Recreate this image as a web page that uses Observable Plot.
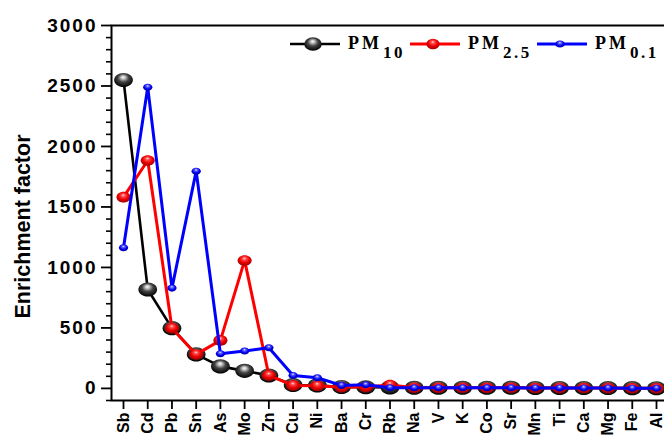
<!DOCTYPE html>
<html>
<head>
<meta charset="utf-8">
<script src="https://cdn.jsdelivr.net/npm/d3@7"></script>
<script src="https://cdn.jsdelivr.net/npm/@observablehq/plot@0.6"></script>
<style>
  body { margin: 0; background: #fff; }
  #chart { position: relative; width: 664px; height: 435px; overflow: hidden; }
  #chart svg { font-family: "Liberation Sans", Arial, sans-serif; font-weight: bold; }
</style>
</head>
<body>
<div id="chart"></div>
<script>
// ---- data ----
const elements = ["Sb","Cd","Pb","Sn","As","Mo","Zn","Cu","Ni","Ba","Cr","Rb","Na","V","K","Co","Sr","Mn","Ti","Ca","Mg","Fe","Al"];
const pm10  = [2550, 818, 498, 281, 182, 145, 107, 28, 25, 12, 10, 8, 6, 6, 5, 5, 5, 4, 4, 3, 3, 2, 1];
const pm25  = [1581, 1884, 498, 281, 397, 1058, 107, 25, 22, 10, 12, 28, 6, 6, 5, 5, 5, 4, 4, 3, 3, 2, 1];
const pm01  = [1163, 2490, 829, 1796, 287, 309, 336, 107, 88, 25, 30, 6, 5, 5, 5, 5, 5, 4, 4, 3, 3, 2, 1];
const seriesKeys = ["PM10", "PM2.5", "PM0.1"];
const legendMain = ["PM", "PM", "PM"];
const legendSub = ["10", "2.5", "0.1"];
const yMajorTicks = [0, 500, 1000, 1500, 2000, 2500, 3000];
const yMinorTicks = d3.range(-100, 3001, 100).filter(v => v % 500 !== 0);
const yTitle = "Enrichment factor";

// ---- styles ----
const colors = ["#000000", "#ff0000", "#0000ff"];
const grads = ["gBlack", "gRed", "gBlue"];
const radii = [8, 6, 4];
const lineW = [2.6, 3, 3];

const K = 0.5523;
function ellipseSymbol(sx, sy) {
  return {
    draw(ctx, size) {
      const r = Math.sqrt(size / Math.PI);
      const rx = r * sx, ry = r * sy;
      ctx.moveTo(rx, 0);
      ctx.bezierCurveTo(rx, ry * K, rx * K, ry, 0, ry);
      ctx.bezierCurveTo(-rx * K, ry, -rx, ry * K, -rx, 0);
      ctx.bezierCurveTo(-rx, -ry * K, -rx * K, -ry, 0, -ry);
      ctx.bezierCurveTo(rx * K, -ry, rx, -ry * K, rx, 0);
      ctx.closePath();
    }
  };
}
const sym = ellipseSymbol(1.17, 0.88);

const allSeries = [pm10, pm25, pm01].map((vals, s) =>
  elements.map((e, i) => ({element: e, value: vals[i], series: seriesKeys[s]})));

const seriesMarks = allSeries.flatMap((data, s) => [
  Plot.line(data, {x: "element", y: "value", stroke: colors[s], strokeWidth: lineW[s]}),
  Plot.dot(data, {x: "element", y: "value", r: radii[s], symbol: sym, fill: `url(#${grads[s]})`, stroke: "none"})
]);

const chart = Plot.plot({
  width: 664,
  height: 435,
  marginTop: 25,
  marginBottom: 35,
  marginLeft: 111,
  marginRight: -20,
  x: {type: "point", domain: elements, range: [123, 656], padding: 0, round: false, axis: null},
  y: {domain: [-100, 3000], axis: null},
  marks: [
    Plot.frame({stroke: "#000", strokeWidth: 2}),
    Plot.axisY({ticks: yMinorTicks, tickSize: 5, tickFormat: () => "", label: null, strokeWidth: 1.6}),
    Plot.axisY({ticks: yMajorTicks, tickSize: 10, tickPadding: 4, tickFormat: d3.format("d"), label: null, fontSize: 19, fontWeight: "bold", strokeWidth: 1.8, fill: "#000"}),
    Plot.axisX({tickSize: 9, tickPadding: 3, tickRotate: -90, label: null, fontSize: 16, fontWeight: "bold", strokeWidth: 1.8, fill: "#000"}),
    ...seriesMarks
  ]
});

document.getElementById("chart").appendChild(chart);

const svg = d3.select(chart);
svg.selectAll('g[aria-label="y-axis tick label"] text').attr("letter-spacing", 2);

// y title
svg.append("text")
  .attr("transform", "translate(22.5,226.5) rotate(-90)")
  .attr("text-anchor", "middle").attr("dominant-baseline", "central")
  .attr("font-size", 21.5).attr("font-weight", "bold").attr("fill", "#000")
  .text(yTitle);

// gradients
const defs = svg.insert("defs", ":first-child");
const gradStops = [
  [[0, "#ffffff"], [0.18, "#c8c8c8"], [0.5, "#444444"], [1, "#000000"]],
  [[0, "#ffe0e0"], [0.22, "#ff5050"], [0.6, "#ee0000"], [1, "#a00000"]],
  [[0, "#e8e8ff"], [0.25, "#6060ff"], [0.65, "#0000f0"], [1, "#0000a0"]]
];
grads.forEach((id, s) => {
  const g = defs.append("radialGradient").attr("id", id)
    .attr("cx", "50%").attr("cy", "42%").attr("r", "58%").attr("fx", "48%").attr("fy", "30%");
  gradStops[s].forEach(([o, c]) => g.append("stop").attr("offset", o).attr("stop-color", c));
});

// legend (inside plot, top right)
const leg = svg.append("g").attr("class", "legend").attr("text-anchor", "start");
const legX = [290, 410, 537];
const legBall = [[8.8, 6.8], [6.6, 5.2], [4.8, 3.6]];
legX.forEach((x0, s) => {
  leg.append("line").attr("x1", x0).attr("x2", x0 + 50).attr("y1", 44).attr("y2", 44)
    .attr("stroke", colors[s]).attr("stroke-width", lineW[s]);
  leg.append("ellipse").attr("cx", x0 + 23).attr("cy", 44)
    .attr("rx", legBall[s][0]).attr("ry", legBall[s][1]).attr("fill", `url(#${grads[s]})`);
  const t = leg.append("text").attr("x", x0 + 58).attr("y", 49).attr("text-anchor", "start")
    .attr("font-family", "'Liberation Serif', 'Times New Roman', serif")
    .attr("font-weight", "bold").attr("fill", "#000");
  t.append("tspan").attr("font-size", 18).attr("letter-spacing", 3).text(legendMain[s]);
  t.append("tspan").attr("font-size", 17).attr("letter-spacing", 2.5).attr("dy", 9).attr("dx", 1).text(legendSub[s]);
});
</script>
</body>
</html>
